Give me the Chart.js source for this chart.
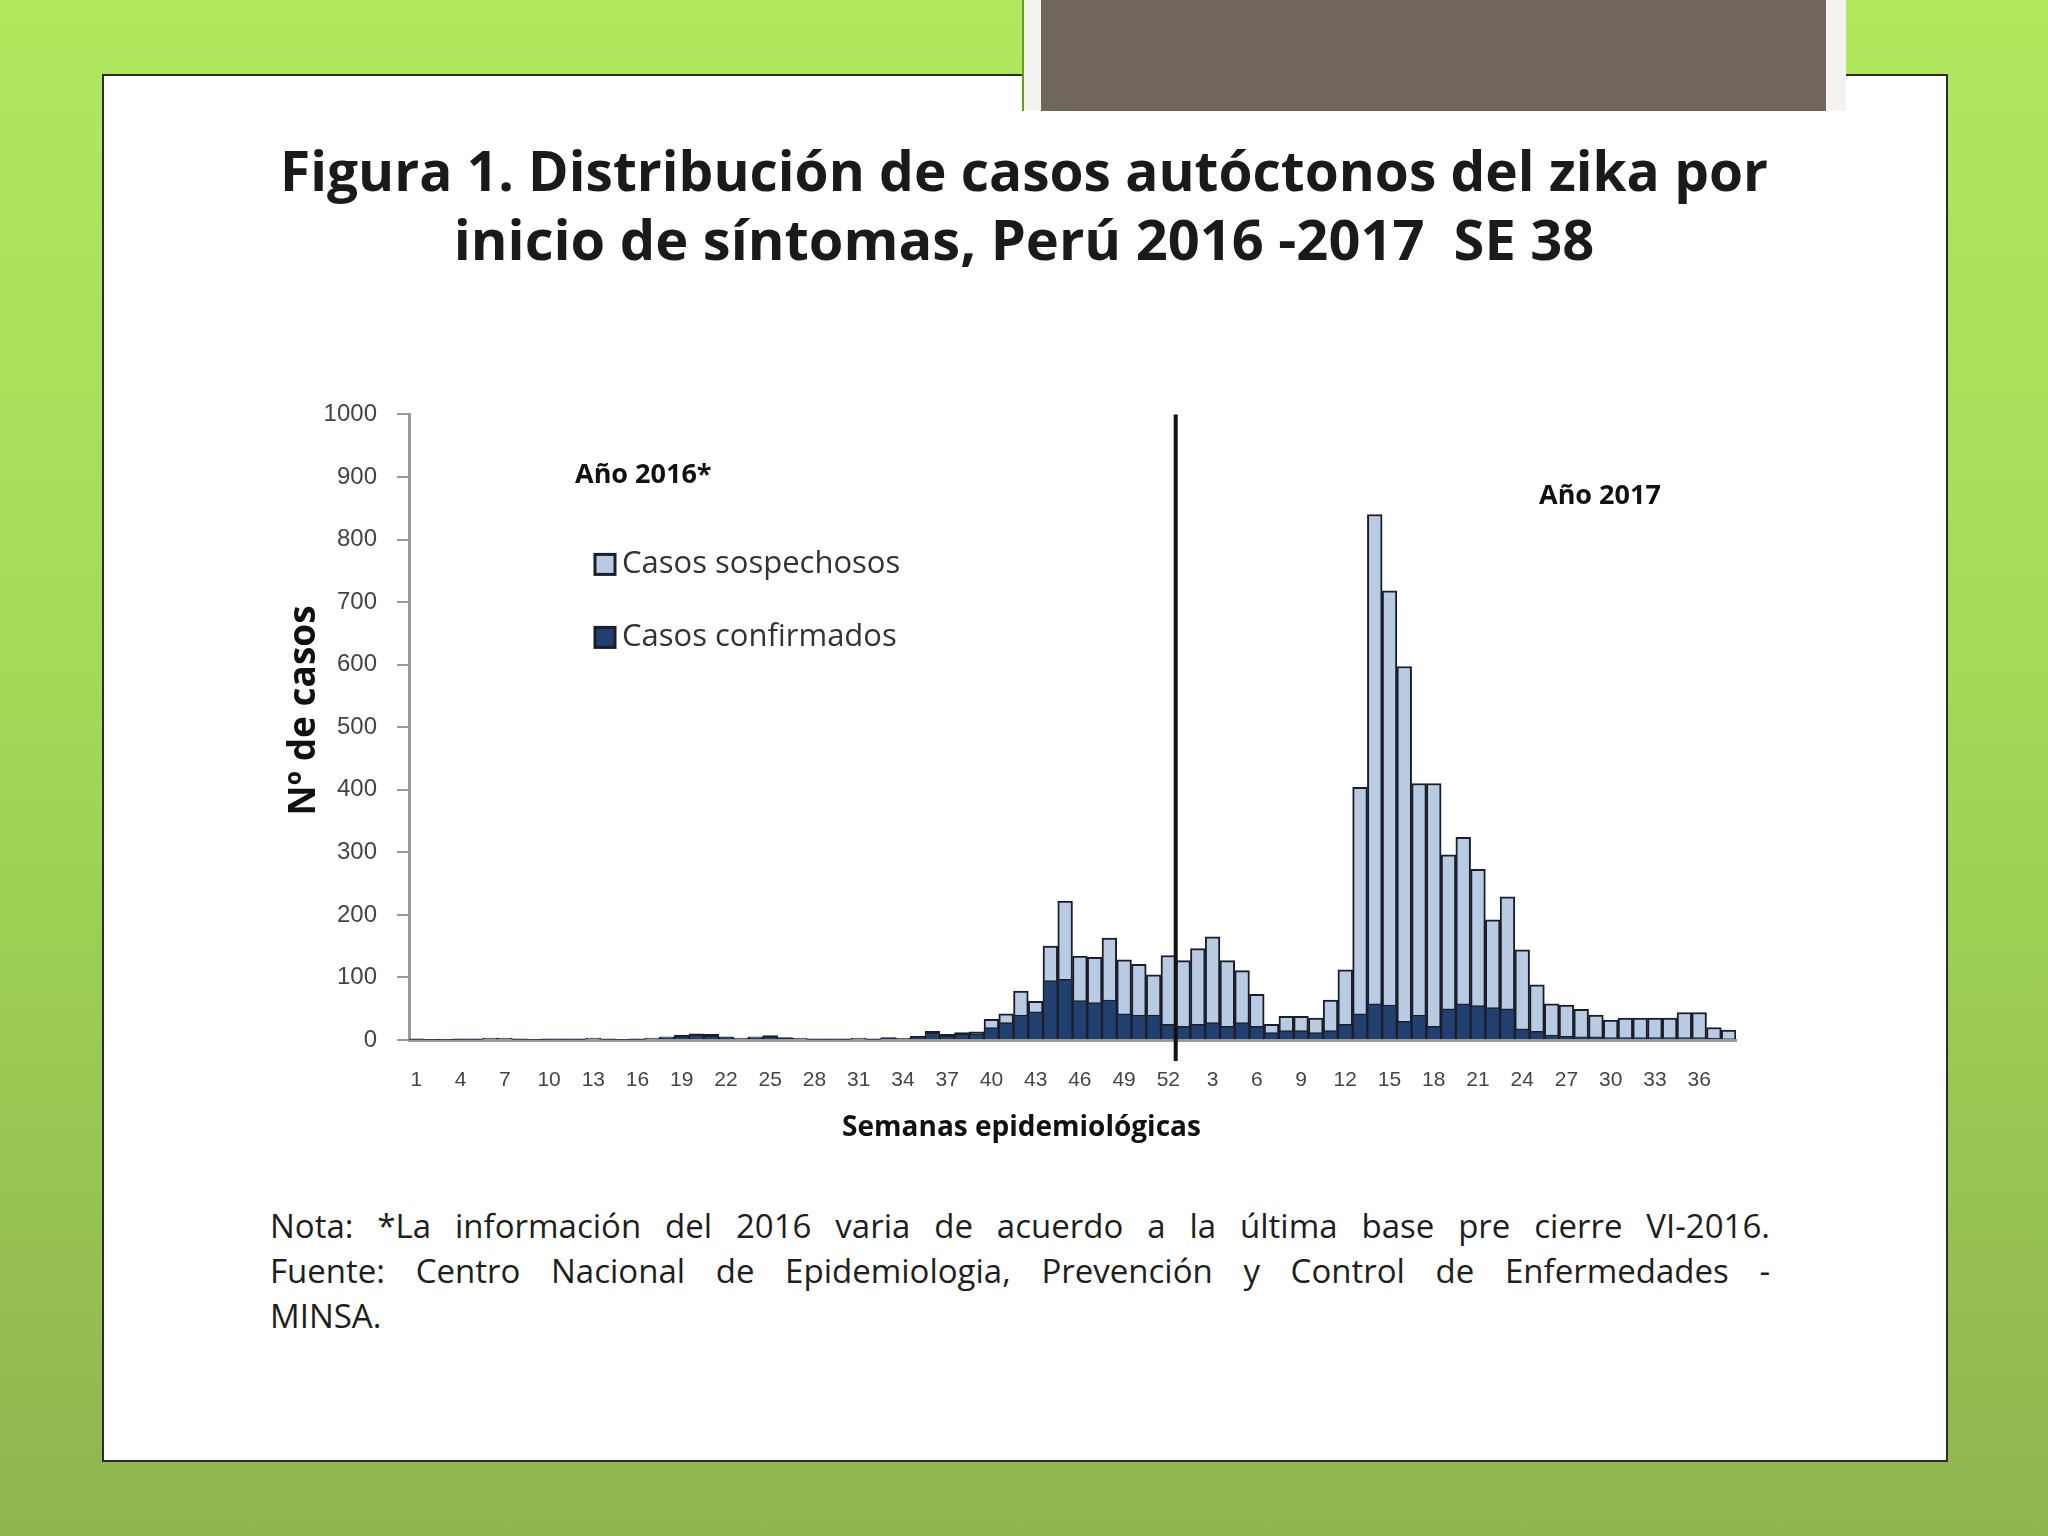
<!DOCTYPE html>
<html lang="es">
<head>
<meta charset="utf-8">
<title>Figura 1. Zika Perú 2016-2017</title>
<script src="https://cdn.jsdelivr.net/npm/chart.js@4.4.1/dist/chart.umd.min.js"></script>
<style>
  html, body { margin: 0; padding: 0; }
  body {
    width: 2048px; height: 1536px; position: relative; overflow: hidden;
    background: linear-gradient(180deg, #b2e85e 0%, #a3d957 45%, #8fb54f 100%);
    font-family: "Open Sans", "DejaVu Sans", sans-serif;
  }
  .slide {
    position: absolute; left: 102px; top: 74px; width: 1842px; height: 1384px;
    background: #fff; border: 2px solid #2c2c2c;
  }
  .tab-frame {
    position: absolute; left: 1022px; top: 0; width: 822px; height: 111px;
    background: #f3f4f0; border-left: 2px solid #6c9a2a; z-index: 2;
  }
  .tab {
    position: absolute; left: 1041px; top: 0; width: 785px; height: 111px;
    background: #71665b; z-index: 3;
  }
  .title {
    position: absolute; left: 102px; width: 1844px; top: 136px;
    text-align: center; font-weight: bold; font-size: 55px; line-height: 68px;
    color: #1a1a1a;
  }
  .title .l2 { font-size: 56px; }
  #wrap { position: absolute; left: 240px; top: 380px; width: 1540px; height: 790px; }
  .note {
    position: absolute; left: 270px; top: 1203px; width: 1500px;
    font-size: 33px; line-height: 45px; color: #1e1e1e;
  }
  .note div { text-align: justify; text-align-last: justify; }
  .note div.last { text-align-last: left; }
</style>
</head>
<body>
<div class="slide"></div>
<div class="tab-frame"></div>
<div class="tab"></div>
<div class="title">
  <div>Figura 1. Distribución de casos autóctonos del zika por</div>
  <div class="l2">inicio de síntomas, Perú 2016 -2017&nbsp; SE 38</div>
</div>
<div id="wrap"><canvas id="zikaChart"></canvas></div>
<div class="note">
  <div>Nota: *La información del 2016 varia de acuerdo a la última base pre cierre VI-2016.</div>
  <div>Fuente: Centro Nacional de Epidemiologia, Prevención y Control de Enfermedades -</div>
  <div class="last">MINSA.</div>
</div>
<script>
// semanas epidemiologicas: 2016 SE 1-52, 2017 SE 1-38
const weeks2016 = Array.from({ length: 52 }, (_, i) => String(i + 1));
const weeks2017 = Array.from({ length: 38 }, (_, i) => String(i + 1));
const weekLabels = weeks2016.concat(weeks2017);

const suspected2016 = [
  2, 1, 1, 2, 2, 3, 3, 2, 1, 2, 2, 2, 3, 2, 1, 2, 3, 5, 8, 10,
  9, 5, 3, 5, 7, 4, 3, 2, 2, 2, 3, 2, 4, 3, 6, 14, 9, 12, 13, 33,
  42, 78, 62, 150, 222, 134, 132, 163, 128, 121, 104, 135
];
const confirmed2016 = [
  1, 1, 1, 1, 1, 2, 2, 1, 1, 1, 1, 1, 2, 1, 1, 1, 2, 3, 6, 8,
  7, 4, 2, 3, 5, 3, 2, 1, 1, 1, 2, 1, 3, 2, 5, 12, 7, 10, 10, 20,
  28, 40, 45, 95, 97, 63, 60, 64, 42, 40, 40, 25
];
const suspected2017 = [
  127, 146, 165, 127, 111, 73, 25, 38, 38, 35, 64, 112, 404, 840, 718, 597, 410, 410, 296, 324,
  273, 192, 229, 144, 88, 58, 56, 49, 40, 32, 35, 35, 35, 35, 44, 44, 20, 16
];
const confirmed2017 = [
  22, 25, 28, 22, 28, 22, 12, 15, 15, 12, 15, 25, 42, 58, 56, 30, 40, 22, 50, 58,
  55, 52, 50, 18, 14, 8, 6, 5, 5, 4, 4, 4, 4, 4, 4, 4, 3, 2
];
const yTicks = [0, 100, 200, 300, 400, 500, 600, 700, 800, 900, 1000];

const seriesNames = ['Casos sospechosos', 'Casos confirmados'];
const yearNotes = ['Año 2016*', 'Año 2017'];
const suspectedColor = '#b9cbe3';
const confirmedColor = '#22406f';
const edgeColor = '#1a1e2b';

// leyenda, textos de año, titulos de ejes y linea de cambio de año
const decorations = {
  id: 'decorations',
  afterDatasetsDraw(chart) {
    const { ctx, chartArea, scales } = chart;
    const x = scales.x;
    const y = scales.y;
    ctx.save();

    // separador 2016 | 2017
    const sepX = (x.getPixelForValue(51) + x.getPixelForValue(52)) / 2;
    ctx.strokeStyle = '#111';
    ctx.lineWidth = 4;
    ctx.beginPath();
    ctx.moveTo(sepX, y.getPixelForValue(1000));
    ctx.lineTo(sepX, chartArea.bottom + 21);
    ctx.stroke();

    // textos de año
    ctx.fillStyle = '#111';
    ctx.font = 'bold 27px "Open Sans", sans-serif';
    ctx.textBaseline = 'middle';
    ctx.textAlign = 'left';
    ctx.fillText(yearNotes[0], chartArea.left + 166, chartArea.top + 61);
    ctx.fillText(yearNotes[1], chartArea.left + 1130, chartArea.top + 82);

    // leyenda
    const fills = [suspectedColor, confirmedColor];
    const rows = [150, 223];
    ctx.font = '31px "Open Sans", sans-serif';
    seriesNames.forEach((name, i) => {
      const bx = chartArea.left + 186;
      const by = chartArea.top + rows[i];
      ctx.fillStyle = fills[i];
      ctx.fillRect(bx, by - 10, 20, 20);
      ctx.strokeStyle = edgeColor;
      ctx.lineWidth = 3;
      ctx.strokeRect(bx, by - 10, 20, 20);
      ctx.fillStyle = '#333';
      ctx.fillText(name, bx + 27, by);
    });

    // titulos de ejes
    ctx.fillStyle = '#111';
    ctx.textAlign = 'center';
    ctx.font = 'bold 28px "Open Sans", sans-serif';
    ctx.fillText('Semanas epidemiológicas', (chartArea.left + chartArea.right) / 2 - 51, chartArea.bottom + 88);

    ctx.translate(chartArea.left - 105, chartArea.top + 296);
    ctx.rotate(-Math.PI / 2);
    ctx.font = 'bold 37px "Open Sans", sans-serif';
    ctx.fillText('Nº de casos', 0, 0);
    ctx.restore();
  }
};

new Chart(document.getElementById('zikaChart'), {
  type: 'bar',
  data: {
    labels: weekLabels,
    datasets: [
      {
        label: seriesNames[0],
        data: suspected2016.concat(suspected2017),
        backgroundColor: suspectedColor,
        borderColor: edgeColor,
        borderWidth: 2,
        order: 1
      },
      {
        label: seriesNames[1],
        data: confirmed2016.concat(confirmed2017),
        backgroundColor: confirmedColor,
        borderColor: edgeColor,
        borderWidth: 1.5,
        order: 0
      }
    ]
  },
  options: {
    responsive: true,
    maintainAspectRatio: false,
    animation: false,
    layout: { padding: { top: 29, right: 44, bottom: 0, left: 0 } },
    datasets: {
      bar: { grouped: false, categoryPercentage: 1, barPercentage: 1 }
    },
    plugins: {
      legend: { display: false },
      tooltip: { enabled: false }
    },
    scales: {
      x: {
        afterFit(scale) { scale.height = 130; },
        grid: { display: false, drawTicks: false },
        border: { color: '#999', width: 3 },
        ticks: {
          autoSkip: false,
          maxRotation: 0,
          padding: 28,
          color: '#444',
          font: { size: 21, family: '"Liberation Sans", sans-serif' },
          callback: (value, index) => (index % 3 === 0 ? weekLabels[index] : '')
        }
      },
      y: {
        min: 0,
        max: 1000,
        afterFit(scale) { scale.width = 169; },
        afterBuildTicks(scale) { scale.ticks = yTicks.map(v => ({ value: v })); },
        grid: { drawOnChartArea: false, drawTicks: true, tickLength: 12, color: '#999', lineWidth: 2 },
        border: { color: '#999', width: 3 },
        ticks: {
          padding: 20,
          color: '#444',
          font: { size: 24, family: '"Liberation Sans", sans-serif' },
          callback: (value) => String(value)
        }
      }
    }
  },
  plugins: [decorations]
});
</script>
</body>
</html>
